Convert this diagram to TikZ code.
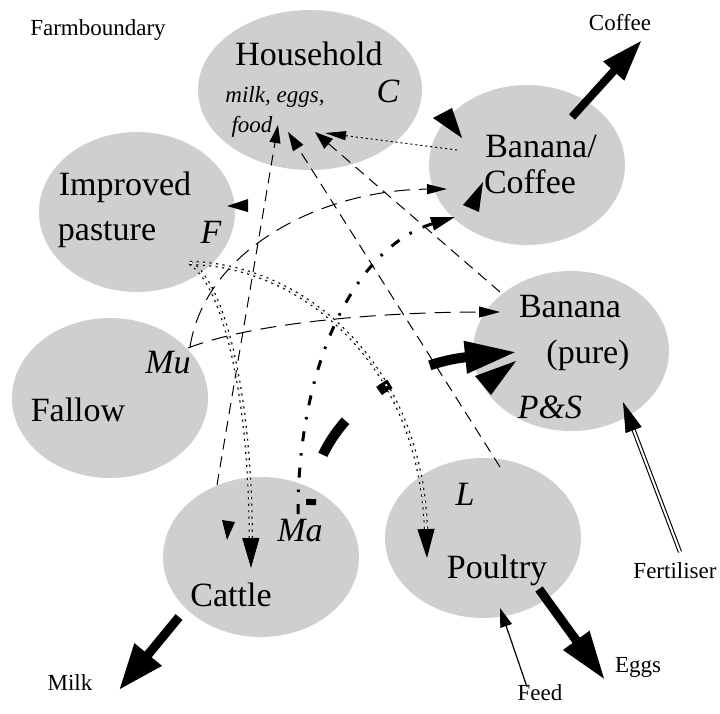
\documentclass[tikz,border=0pt]{standalone}
\usepackage{fontspec}
\setmainfont{Liberation Serif}
\usetikzlibrary{arrows.meta,shapes.geometric}
\definecolor{ellgray}{RGB}{207,207,207}
\begin{document}
\begin{tikzpicture}[x=1pt,y=-1pt,
  blob/.style={ellipse,fill=ellgray,draw=none,inner sep=0pt,minimum width=196pt,minimum height=160pt},
  big/.style={font=\fontsize{34}{37}\selectfont,anchor=base,inner sep=0pt},
  bigit/.style={font=\fontsize{34}{37}\selectfont\itshape,anchor=base,inner sep=0pt},
  small/.style={font=\fontsize{23}{25}\selectfont,anchor=base,inner sep=0pt},
  itsmall/.style={font=\fontsize{23}{26}\selectfont\itshape,anchor=base,inner sep=0pt},
  shortdash/.style={line width=1pt,dash pattern=on 11pt off 7pt},
  longdash/.style={line width=1pt,dash pattern=on 16pt off 9pt},
  fine/.style={line width=1pt,dash pattern=on 2pt off 3pt},
  dbldot/.style={line width=1.2pt,double=white,double distance=1.8pt,dash pattern=on 2pt off 4.5pt},
  dashdotflow/.style={line width=3pt,dash pattern=on 10pt off 12pt on 2.5pt off 12pt},
  tiponly/.style={line width=1pt,dash pattern=on 0pt off 5000pt},
  export/.style={line width=9pt},
]
\useasboundingbox (0,0) rectangle (720,713);
% ellipses
\node[blob,minimum width=224pt] (hh) at (310,90) {};
\node[blob] (bc) at (527,165) {};
\node[blob] (ip) at (137,212) {};
\node[blob] (fa) at (110,398) {};
\node[blob] (ca) at (261,557) {};
\node[blob] (po) at (483,538) {};
\node[blob] (bp) at (571,351) {};
% labels
\node[small] (tFarm) at (98,35) {Farmboundary};
\node[small] (tCoffeeOut) at (620,30) {Coffee};
\node[big] (tHH) at (309,65) {Household};
\node[itsmall] (tMilkEggs) at (275,102) {milk, eggs,};
\node[itsmall] (tFood) at (252,132) {food};
\node[bigit] (tC) at (388,102) {C};
\node[big] (tBan) at (541,157) {Banana/};
\node[big] (tCof) at (530,193) {Coffee};
\node[big] (tImp) at (125,195) {Improved};
\node[big] (tPas) at (107,240) {pasture};
\node[bigit] (tF) at (211,243) {F};
\node[big] (tFal) at (78,421) {Fallow};
\node[bigit] (tMu) at (168,373) {Mu};
\node[big] (tCat) at (231,606) {Cattle};
\node[bigit] (tMa) at (300,541) {Ma};
\node[bigit] (tL) at (465,505) {L};
\node[big] (tPou) at (497,578) {Poultry};
\node[big] (tBan2) at (570,317) {Banana};
\node[big] (tPure) at (588,363) {(pure)};
\node[bigit] (tPS) at (550,418) {P\&S};
\node[small] (tEggs) at (638,672) {Eggs};
\node[small] (tFeed) at (540,700) {Feed};
\node[small] (tFert) at (675,578) {Fertiliser};
\node[small] (tMilk) at (70,690) {Milk};
% connector end points
\coordinate (hhIn1) at (278,125);
\coordinate (hhIn2) at (288,132);
\coordinate (hhIn3) at (315,132);
\coordinate (hhIn4) at (325,133);
\coordinate (caTop) at (217,485);
\coordinate (poL) at (500,467);
\coordinate (bpTop) at (500,292);
\coordinate (bcLeft) at (457,150);
\coordinate (muA) at (190,347);
\coordinate (muB) at (188,348);
\coordinate (bcIn1) at (447,189);
\coordinate (bcIn2) at (455,217);
\coordinate (bpIn1) at (500,312);
\coordinate (bpIn2) at (517,352);
\coordinate (maA) at (298,514);
\coordinate (maB) at (311,505);
\coordinate (ipOut) at (190,263);
\coordinate (caIn) at (251,568);
\coordinate (poIn) at (427,558);
\coordinate (coffOut) at (572,117);
\coordinate (coffTip) at (642,40);
\coordinate (milkOut) at (179,617);
\coordinate (milkTip) at (119,690);
\coordinate (eggOut) at (539,589);
\coordinate (eggTip) at (605,680);
\coordinate (feedStart) at (527,687);
\coordinate (feedTip) at (500,608);
\coordinate (fertStart) at (680,552);
\coordinate (fertTip) at (623,402);
% exports
\draw[line width=8pt,-{Triangle[length=42pt,width=26pt]}] (coffOut) -- (coffTip);
\draw[export,-{Triangle[length=46pt,width=33pt]}] (milkOut) -- (milkTip);
\draw[export,-{Triangle[length=49pt,width=30pt]}] (eggOut) -- (eggTip);
% imports
\draw[line width=1.2pt,-{Triangle[length=19pt,width=12pt]}] (feedStart) -- (feedTip);
\draw[line width=1.1pt,double=white,double distance=2pt,shorten >=26pt] (fertStart) -- (fertTip);
\draw[tiponly,-{Triangle[length=30pt,width=17pt]}] (fertStart) -- (fertTip);
% flows into household
\draw[shortdash,-{Triangle[length=18pt,width=11pt]}] (caTop) -- (hhIn1);
\draw[shortdash,-{Triangle[length=19pt,width=12pt]}] (poL) -- (hhIn2);
\draw[shortdash,-{Triangle[length=18pt,width=13pt]}] (bpTop) -- (hhIn3);
\draw[fine,-{Triangle[length=21pt,width=9pt]}] (bcLeft) -- (hhIn4);
% manure flows
\draw[longdash,-{Triangle[length=20pt,width=10pt]}] (muA) .. controls (205,250) and (320,190) .. (bcIn1);
\draw[longdash,-{Triangle[length=21pt,width=11pt]}] (muB) .. controls (260,320) and (400,312) .. (bpIn1);
\draw[dashdotflow,-{Triangle[length=24pt,width=13pt]}] (maA) .. controls (298,364) and (355,247) .. (bcIn2);
\draw[line width=10pt,dash pattern=on 6pt off 46pt on 41pt off 45pt on 13pt off 44pt on 300pt,-{Triangle[length=52pt,width=30pt]}] (maB) .. controls (311,430) and (390,365) .. (bpIn2);
% fodder flows
\draw[dbldot,shorten >=29pt] (ipOut) .. controls (220,280) and (250,380) .. (caIn);
\draw[tiponly,-{Triangle[length=30pt,width=17pt]}] (ipOut) .. controls (220,280) and (250,380) .. (caIn);
\draw[dbldot,shorten >=28pt] (ipOut) .. controls (300,265) and (420,360) .. (poIn);
\draw[tiponly,-{Triangle[length=29pt,width=17pt]}] (ipOut) .. controls (300,265) and (420,360) .. (poIn);
% isolated arrow heads
\fill (433,118) -- (452,108) -- (462,138) -- cycle;
\fill (227,206) -- (248,199) -- (248,212) -- cycle;
\fill (463,205) -- (479,212) -- (483,182) -- cycle;
\fill (475,376) -- (491,395) -- (516,361) -- cycle;
\fill (222,520) -- (235,522) -- (227,540) -- cycle;
\end{tikzpicture}
\end{document}
